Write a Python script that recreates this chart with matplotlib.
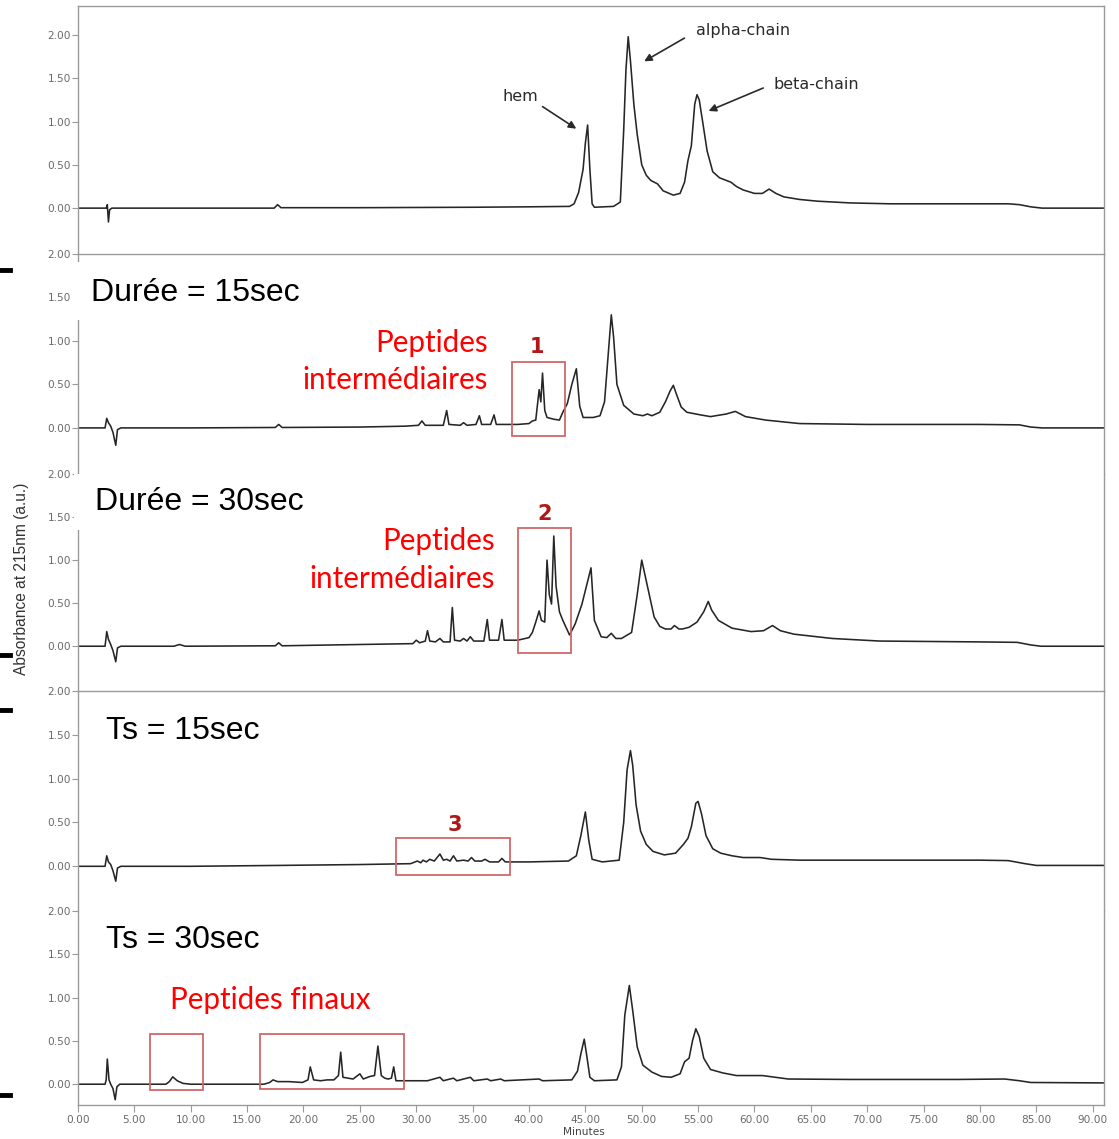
import matplotlib.pyplot as plt
from matplotlib.patches import Rectangle
from matplotlib.lines import Line2D

# chromatograms: (minutes, absorbance at 215 nm)
native = [(0, 0), (2.5, 0), (2.6, 0.04), (2.7, -0.16), (2.8, -0.02), (3.0, 0), (10, 0),
          (17.4, 0.0), (17.7, 0.04), (18.0, 0.005), (25, 0.005), (35, 0.01), (40, 0.015),
          (43.6, 0.02), (44.0, 0.05), (44.4, 0.18), (44.8, 0.45), (45.0, 0.75), (45.2, 0.96),
          (45.4, 0.45), (45.6, 0.05), (45.8, 0.01), (47.5, 0.02), (48.1, 0.07), (48.4, 0.9),
          (48.6, 1.6), (48.8, 1.98), (49.0, 1.7), (49.3, 1.2), (49.6, 0.85), (50.0, 0.5),
          (50.4, 0.38), (50.8, 0.32), (51.4, 0.28), (51.9, 0.2), (52.8, 0.15), (53.4, 0.17),
          (53.8, 0.3), (54.1, 0.55), (54.4, 0.72), (54.7, 1.2), (54.9, 1.31), (55.1, 1.25),
          (55.4, 1.0), (55.8, 0.66), (56.3, 0.42), (56.9, 0.35), (57.5, 0.32), (57.9, 0.3),
          (58.4, 0.25), (59.0, 0.21), (60.0, 0.17), (60.7, 0.17), (61.3, 0.22), (61.9, 0.17),
          (62.6, 0.13), (64, 0.1), (65.6, 0.08), (68.5, 0.06), (72, 0.05), (80, 0.05),
          (82.5, 0.05), (83.5, 0.04), (84.5, 0.015), (85.5, 0.0), (91, 0.0)]

duree_15 = [(0, 0), (2.4, 0), (2.55, 0.11), (2.7, 0.06), (2.9, 0.02), (3.1, -0.05), (3.35, -0.2),
            (3.5, -0.02), (3.8, 0), (10, 0), (17.5, 0.005), (17.8, 0.04), (18.1, 0.005),
            (25, 0.01), (29, 0.02), (30.2, 0.03), (30.5, 0.08), (30.8, 0.03), (32.4, 0.03),
            (32.7, 0.2), (32.9, 0.04), (33.9, 0.03), (34.2, 0.06), (34.5, 0.03), (35.3, 0.04),
            (35.6, 0.14), (35.8, 0.04), (36.6, 0.04), (36.9, 0.15), (37.1, 0.04), (39, 0.04),
            (40.0, 0.05), (40.3, 0.08), (40.6, 0.09), (40.9, 0.44), (41.05, 0.3), (41.2, 0.63),
            (41.4, 0.2), (41.6, 0.12), (42.2, 0.1), (42.7, 0.09), (43.0, 0.18), (43.4, 0.28),
            (43.8, 0.5), (44.2, 0.68), (44.5, 0.25), (44.8, 0.12), (45.7, 0.12), (46.3, 0.14),
            (46.7, 0.3), (47.0, 0.8), (47.3, 1.30), (47.5, 1.05), (47.8, 0.5), (48.4, 0.26),
            (49.3, 0.16), (50.1, 0.14), (50.5, 0.16), (50.9, 0.14), (51.6, 0.18), (52.1, 0.3),
            (52.5, 0.42), (52.8, 0.49), (53.1, 0.38), (53.5, 0.24), (54.0, 0.18), (55.2, 0.15),
            (56.1, 0.13), (57.5, 0.16), (58.3, 0.19), (59.2, 0.13), (61, 0.09), (64, 0.05),
            (70, 0.04), (80, 0.04), (83.5, 0.035), (84.5, 0.01), (85.5, 0.0), (91, 0.0)]

duree_30 = [(0, 0), (2.4, 0), (2.55, 0.17), (2.7, 0.08), (2.9, 0.02), (3.1, -0.05), (3.35, -0.18),
            (3.5, -0.02), (3.8, 0), (8.5, 0), (9.0, 0.02), (9.5, 0), (17.5, 0.005), (17.8, 0.04),
            (18.1, 0.005), (25, 0.02), (29.7, 0.03), (30.0, 0.07), (30.3, 0.04), (30.8, 0.06),
            (31.0, 0.18), (31.2, 0.06), (31.7, 0.05), (32.1, 0.09), (32.4, 0.05), (33.0, 0.05),
            (33.2, 0.45), (33.4, 0.07), (33.9, 0.06), (34.2, 0.09), (34.5, 0.06), (34.8, 0.11),
            (35.1, 0.06), (36.0, 0.06), (36.3, 0.31), (36.5, 0.07), (37.3, 0.07), (37.6, 0.31),
            (37.8, 0.07), (39.0, 0.07), (40.0, 0.1), (40.3, 0.16), (40.6, 0.28), (40.9, 0.41),
            (41.1, 0.3), (41.4, 0.28), (41.6, 1.0), (41.8, 0.6), (42.0, 0.49), (42.2, 1.28),
            (42.4, 0.7), (42.7, 0.4), (43.0, 0.3), (43.6, 0.13), (44.1, 0.26), (44.7, 0.49),
            (45.1, 0.7), (45.5, 0.91), (45.8, 0.3), (46.4, 0.11), (46.9, 0.1), (47.3, 0.15),
            (47.7, 0.09), (48.2, 0.09), (49.1, 0.16), (49.6, 0.6), (50.0, 1.0), (50.4, 0.76),
            (51.1, 0.34), (51.6, 0.23), (52.1, 0.2), (52.6, 0.2), (52.9, 0.24), (53.3, 0.2),
            (53.6, 0.2), (54.2, 0.22), (54.9, 0.28), (55.5, 0.4), (55.9, 0.52), (56.2, 0.42),
            (56.8, 0.3), (58.0, 0.21), (59.7, 0.17), (60.8, 0.18), (61.6, 0.24), (62.3, 0.18),
            (63.5, 0.14), (66.9, 0.09), (71.1, 0.06), (80, 0.05), (83.3, 0.045), (84.5, 0.015),
            (85.4, 0.0), (91, 0.0)]

ts_15 = [(0, 0), (2.4, 0), (2.55, 0.12), (2.7, 0.05), (2.9, 0.02), (3.1, -0.05), (3.35, -0.17),
         (3.5, -0.02), (3.8, 0), (10, 0.0), (17.8, 0.01), (25, 0.02), (29.5, 0.03), (30.1, 0.06),
         (30.4, 0.04), (30.6, 0.07), (30.9, 0.05), (31.2, 0.08), (31.6, 0.06), (32.1, 0.14),
         (32.4, 0.07), (32.7, 0.08), (33.0, 0.06), (33.3, 0.12), (33.6, 0.06), (34.2, 0.07),
         (34.6, 0.06), (34.9, 0.1), (35.2, 0.06), (35.8, 0.06), (36.1, 0.08), (36.5, 0.05),
         (37.3, 0.05), (37.6, 0.09), (37.9, 0.05), (40, 0.05), (43.5, 0.06), (44.2, 0.12),
         (44.6, 0.35), (45.0, 0.62), (45.3, 0.3), (45.6, 0.08), (46.5, 0.05), (48.0, 0.07),
         (48.4, 0.5), (48.7, 1.1), (49.0, 1.32), (49.2, 1.15), (49.5, 0.7), (49.9, 0.4),
         (50.4, 0.25), (51.0, 0.17), (52.0, 0.13), (53.0, 0.15), (53.7, 0.25), (54.1, 0.32),
         (54.4, 0.45), (54.8, 0.72), (55.0, 0.74), (55.3, 0.6), (55.7, 0.35), (56.3, 0.2),
         (57.0, 0.15), (58.0, 0.12), (59.0, 0.1), (60.5, 0.1), (61.5, 0.08), (64, 0.07),
         (80, 0.07), (82.5, 0.065), (84, 0.03), (85, 0.01), (91, 0.01)]

ts_30 = [(0, 0), (2.4, 0), (2.5, 0.05), (2.6, 0.29), (2.75, 0.05), (2.9, 0.0), (3.1, -0.05),
         (3.3, -0.18), (3.45, -0.03), (3.7, 0), (7.8, 0.0), (8.1, 0.03), (8.4, 0.085), (8.8, 0.04),
         (9.3, 0.01), (10, 0), (16.5, 0.0), (17.0, 0.02), (17.3, 0.05), (17.7, 0.03), (18.1, 0.03),
         (18.7, 0.03), (19.9, 0.02), (20.4, 0.05), (20.6, 0.2), (20.9, 0.05), (21.5, 0.04),
         (22.1, 0.05), (22.7, 0.05), (23.1, 0.1), (23.3, 0.37), (23.5, 0.08), (24.4, 0.06),
         (25.0, 0.12), (25.3, 0.06), (25.9, 0.09), (26.3, 0.1), (26.6, 0.44), (26.9, 0.1),
         (27.2, 0.07), (27.5, 0.06), (27.8, 0.07), (28.0, 0.2), (28.2, 0.04), (29.4, 0.04),
         (31, 0.04), (32.1, 0.08), (32.4, 0.04), (33.3, 0.07), (33.6, 0.04), (34.8, 0.08),
         (35.1, 0.04), (36.3, 0.06), (36.6, 0.04), (37.5, 0.06), (37.8, 0.04), (40.9, 0.06),
         (41.2, 0.04), (43.8, 0.05), (44.3, 0.15), (44.6, 0.35), (44.9, 0.52), (45.1, 0.35),
         (45.4, 0.08), (45.8, 0.04), (47.8, 0.05), (48.2, 0.2), (48.5, 0.8), (48.9, 1.14),
         (49.2, 0.85), (49.6, 0.43), (50.1, 0.22), (50.9, 0.14), (51.75, 0.09), (52.6, 0.08),
         (53.4, 0.12), (53.8, 0.26), (54.2, 0.3), (54.5, 0.5), (54.8, 0.64), (55.1, 0.55),
         (55.5, 0.3), (56.1, 0.17), (57.2, 0.13), (58.4, 0.1), (60.7, 0.1), (63.0, 0.06),
         (68.4, 0.055), (78, 0.055), (82.2, 0.06), (83.5, 0.04), (84.5, 0.02), (91, 0.015)]

y_ticks = [0.0, 0.5, 1.0, 1.5, 2.0]
x_ticks = list(range(0, 95, 5))

W, H = 1119, 1139
fig = plt.figure(figsize=(W / 100, H / 100), dpi=100)

AX_L, AX_R = 78, 1104
GREY = '#9a9a9a'
TICK_C = '#6a6a6a'
RED_BOX = '#d06868'
RED_TXT = '#ff0000'


def make_ax(top, bottom, ylim):
    ax = fig.add_axes([AX_L / W, 1 - bottom / H, (AX_R - AX_L) / W, (bottom - top) / H])
    ax.set_xlim(0, 91)
    ax.set_ylim(*ylim)
    for s in ax.spines.values():
        s.set_color(GREY)
        s.set_linewidth(1.0)
    ax.spines['bottom'].set_visible(False)
    ax.set_yticks(y_ticks)
    ax.set_yticklabels(['%.2f' % v for v in y_ticks])
    ax.tick_params(axis='y', length=4, width=0.8, color=GREY, labelsize=7.6,
                   labelcolor=TICK_C, pad=1)
    ax.set_xticks([])
    return ax


def trace(ax, pts):
    xs = [p[0] for p in pts]
    ys = [p[1] for p in pts]
    ax.plot(xs, ys, color='#262626', lw=1.15, solid_joinstyle='round')


panels = [(6, 254, (-0.53, 2.335), native),
          (254, 474, (-0.53, 2.0), duree_15),
          (474, 691, (-0.52, 2.0), duree_30),
          (691, 911, (-0.51, 2.0), ts_15),
          (911, 1105, (-0.24, 2.0), ts_30)]
axes = []
for top, bottom, yl, pts in panels:
    ax = make_ax(top, bottom, yl)
    trace(ax, pts)
    axes.append(ax)

ax1, ax2, ax3, ax4, ax5 = axes
ax3.spines['top'].set_visible(False)
ax5.spines['top'].set_visible(False)
ax5.spines['bottom'].set_visible(True)
ax5.set_xticks(x_ticks)
ax5.set_xticklabels(['%.2f' % v for v in x_ticks])
ax5.tick_params(axis='x', length=5, width=0.8, color=GREY, labelsize=7.6,
                labelcolor=TICK_C, pad=2)
ax5.set_xlabel('Minutes', fontsize=7.6, color='#444444', labelpad=0)
ax5.xaxis.set_label_coords(0.493, -0.115)

# peak labels on the native chromatogram
lab = dict(fontsize=11.5, color='#2a2a2a', ha='center', va='center')
arr = dict(arrowstyle='-|>', color='#2a2a2a', lw=1.2, mutation_scale=11)
ax1.text(39.2, 1.29, 'hem', **lab)
ax1.annotate('', xy=(44.4, 0.9), xytext=(41.0, 1.19), arrowprops=arr)
ax1.text(59.0, 2.05, 'alpha-chain', **lab)
ax1.annotate('', xy=(50.0, 1.68), xytext=(54.0, 1.98), arrowprops=arr)
ax1.text(65.5, 1.43, 'beta-chain', **lab)
ax1.annotate('', xy=(55.7, 1.11), xytext=(61.0, 1.40), arrowprops=arr)


def box(ax, x0, x1, y0, y1):
    ax.add_patch(Rectangle((x0, y0), x1 - x0, y1 - y0, fill=False,
                           edgecolor=RED_BOX, lw=1.3, zorder=5))


box(ax2, 38.5, 43.2, -0.09, 0.76)
ax2.text(40.7, 0.93, '1', color='#b01818', fontsize=15, fontweight='bold',
         ha='center', va='center')
box(ax3, 39.0, 43.7, -0.08, 1.37)
ax3.text(41.4, 1.54, '2', color='#b01818', fontsize=15, fontweight='bold',
         ha='center', va='center')
box(ax4, 28.2, 38.3, -0.1, 0.32)
ax4.text(33.4, 0.47, '3', color='#b01818', fontsize=15, fontweight='bold',
         ha='center', va='center')
box(ax5, 6.4, 11.1, -0.07, 0.58)
box(ax5, 16.1, 28.9, -0.06, 0.58)

# white label boxes covering the frame, then the slide texts
fig.patches.append(Rectangle((72 / W, 1 - 320 / H), 238 / W, 58 / H,
                             transform=fig.transFigure, facecolor='white',
                             edgecolor='none', zorder=10))
fig.patches.append(Rectangle((74 / W, 1 - 530 / H), 240 / W, 56 / H,
                             transform=fig.transFigure, facecolor='white',
                             edgecolor='none', zorder=10))

big = dict(fontsize=23, color='black', family='Liberation Sans', va='center', ha='left',
           zorder=11)
fig.text(91 / W, 1 - 293 / H, 'Durée = 15sec', **big)
fig.text(95 / W, 1 - 502 / H, 'Durée = 30sec', **big)
fig.text(106 / W, 1 - 731 / H, 'Ts = 15sec', **big)
fig.text(106 / W, 1 - 940 / H, 'Ts = 30sec', **big)

red = dict(fontsize=21.3, color=RED_TXT, family='Lato', va='center', zorder=11)
fig.text(488 / W, 1 - 343 / H, 'Peptides', ha='right', **red)
fig.text(488 / W, 1 - 380 / H, 'intermédiaires', ha='right', **red)
fig.text(495 / W, 1 - 541 / H, 'Peptides', ha='right', **red)
fig.text(495 / W, 1 - 579 / H, 'intermédiaires', ha='right', **red)
fig.text(170 / W, 1 - 1000 / H, 'Peptides finaux', ha='left', **red)

fig.text(22 / W, 1 - 579 / H, 'Absorbance at 215nm (a.u.)', rotation=90, fontsize=11.2,
         family='Liberation Sans', color='#333333', ha='center', va='center')

# small black marks at the left edge of the slide
for yy in (270, 655, 710, 1095):
    fig.lines.append(Line2D([0, 10 / W], [1 - yy / H, 1 - yy / H], color='black', lw=3.5,
                            transform=fig.transFigure))

fig.savefig('out.png', dpi=100)
